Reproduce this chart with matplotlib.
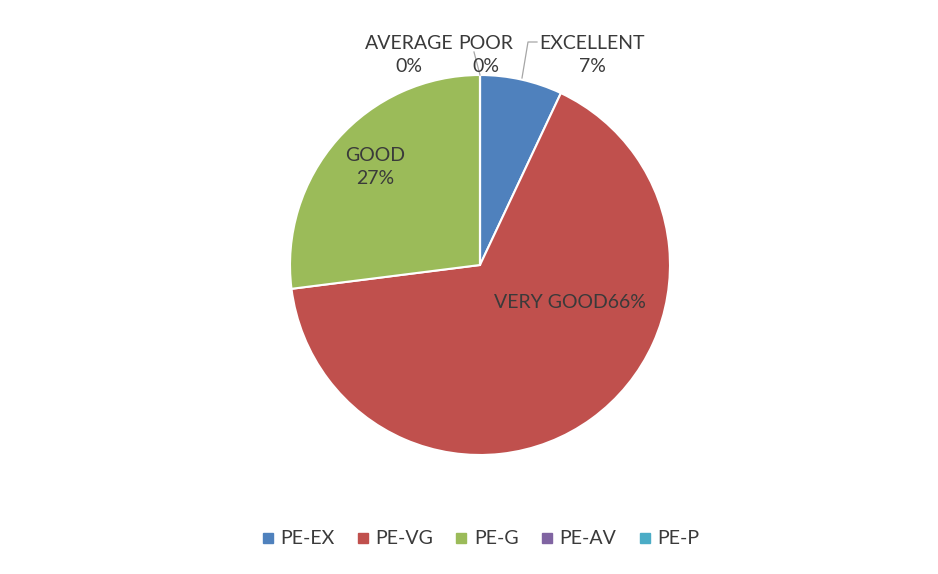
import matplotlib
matplotlib.use("Agg")
import matplotlib.pyplot as plt
from matplotlib.lines import Line2D

categories = ["PE-EX", "PE-VG", "PE-G", "PE-AV", "PE-P"]
label_names = ["EXCELLENT", "VERY GOOD", "GOOD", "AVERAGE", "POOR"]
values = [7, 66, 27, 0, 0]
colors = ["#4F81BD", "#C0504D", "#9BBB59", "#8064A2", "#4BACC6"]

plt.rcParams['font.family'] = ['Lato', 'DejaVu Sans']
W, H = 938, 574
fig = plt.figure(figsize=(W / 100, H / 100), dpi=100)
cx, cy, r = 480, 265, 190
ax = fig.add_axes([(cx - r) / W, (H - cy - r) / H, 2 * r / W, 2 * r / H])
ax.pie(values, colors=colors, startangle=90, counterclock=False,
       wedgeprops=dict(edgecolor="white", linewidth=1.5))
ax.set_xlim(-1, 1)
ax.set_ylim(-1, 1)
ax.set_aspect("equal")
ax.axis("off")

def px(x, y):
    return ((x - cx) / r, (cy - y) / r)

tc = "#3A3A3A"
fs = 14
pos = {
    "EXCELLENT": (592, 55),
    "VERY GOOD": (570, 303),
    "GOOD": (375, 167),
    "AVERAGE": (409, 55),
    "POOR": (486, 55),
}
for name, v in zip(label_names, values):
    x, y = px(*pos[name])
    if name == "VERY GOOD":
        txt = f"{name}{v}%"
    else:
        txt = f"{name}\n{v}%"
    ax.text(x, y, txt, ha="center", va="center", fontsize=fs, color=tc,
            linespacing=1.45, clip_on=False)

# leader lines
for pts in ([(522, 78), (528, 42), (537, 42)], [(480, 75), (474, 52)]):
    xs, ys = zip(*[px(*p) for p in pts])
    ax.add_line(Line2D(xs, ys, color="#A6A6A6", lw=0.9, clip_on=False))

handles = [Line2D([], [], marker="s", linestyle="none", markersize=6.5,
                  markerfacecolor=c, markeredgecolor=c) for c in colors]
fig.legend(handles, categories, loc="center", bbox_to_anchor=(481 / W, 1 - 539 / H),
           ncol=5, frameon=False, fontsize=14, labelcolor=tc,
           handletextpad=0.4, columnspacing=1.2, handlelength=0.5)

fig.savefig("out.png", dpi=100, facecolor="white")
